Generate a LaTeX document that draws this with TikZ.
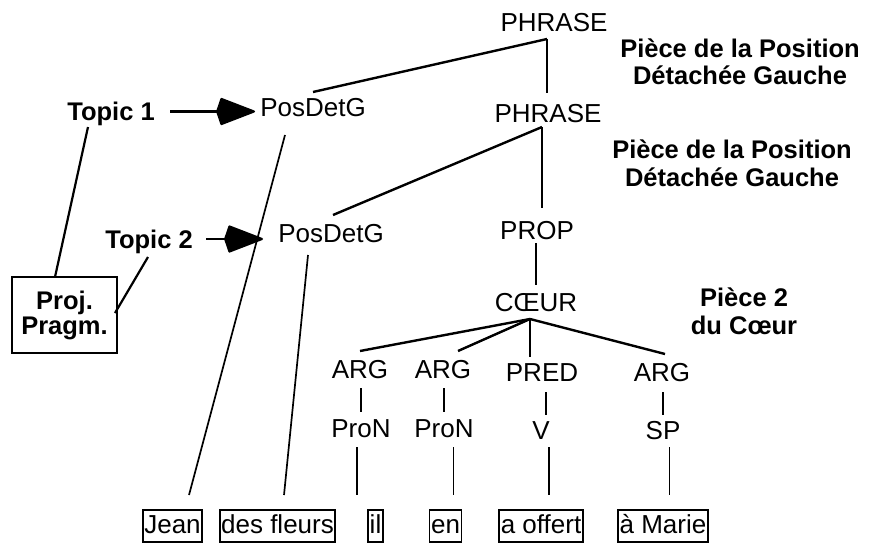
\documentclass[tikz,border=0pt]{standalone}
\usepackage{fontspec}
\setmainfont{Liberation Sans}
\usetikzlibrary{arrows.meta}
\begin{document}
\begin{tikzpicture}[x=1pt,y=-1pt,
 lbl/.style={inner sep=0pt, font=\fontsize{26}{30}\selectfont, text height=18.6pt, text depth=0pt},
 blbl/.style={inner sep=0pt, font=\fontsize{25.5}{27}\selectfont\bfseries, text height=18.3pt, text depth=0pt},
 word/.style={draw, line width=1.8pt, inner xsep=1.5pt, inner ysep=3pt, font=\fontsize{26}{30}\selectfont, text height=20pt, text depth=6pt},
 note/.style={inner sep=0pt, align=center, anchor=north},
 edge/.style={line width=2.4pt},
 thin/.style={line width=1.7pt},
 arr/.style={line width=2.2pt, -{Stealth[length=36pt,width=27pt,inset=-5pt,round]}},
 projbox/.style={draw, line width=2.2pt, align=center, inner sep=0pt, minimum width=105pt, minimum height=76pt, font=\fontsize{25.5}{25}\selectfont\bfseries}
]
\useasboundingbox (0,0) rectangle (872,543);

% tree nodes
\node[lbl] (ph1) at (554,22) {PHRASE};
\node[lbl] (ph2) at (548,113) {PHRASE};
\node[lbl] (prop) at (537,230) {PROP};
\node[lbl] (coeur) at (536,302) {CŒUR};
\node[lbl] (pdg1) at (313,107) {PosDetG};
\node[lbl] (pdg2) at (331,233) {PosDetG};
\node[lbl] (arg1) at (360,369) {ARG};
\node[lbl] (arg2) at (443,369) {ARG};
\node[lbl] (pred) at (542,372) {PRED};
\node[lbl] (arg4) at (662,372) {ARG};
\node[lbl] (pron1) at (361,428) {ProN};
\node[lbl] (pron2) at (444,428) {ProN};
\node[lbl] (vv) at (541,430) {V};
\node[lbl] (sp) at (663,430) {SP};

% words
\node[word] (w1) at (172.5,526) {Jean};
\node[word] (w2) at (277.5,526) {des fleurs};
\node[word] (w3) at (375.5,526) {il};
\node[word] (w4) at (445.5,526) {en};
\node[word] (w5) at (541,526) {a offert};
\node[word] (w6) at (663,526) {à Marie};

% topics
\node[blbl] (t1) at (111,111) {Topic 1};
\node[blbl] (t2) at (149,239) {Topic 2};
\node[projbox] (proj) at (64.5,315) {Proj.\\Pragm.};

% notes
\node[note, font=\fontsize{25.5}{27}\selectfont\bfseries] (n1) at (740,38.4) {Pièce de la Position\\Détachée Gauche};
\node[note, font=\fontsize{25.5}{28}\selectfont\bfseries] (n2) at (732,139.4) {Pièce de la Position\\Détachée Gauche};
\node[note, font=\fontsize{25.5}{28}\selectfont\bfseries] (n3) at (744,287.4) {Pièce 2\\du Cœur};

% junctions
\coordinate (j1) at ([shift={(-7,17)}]ph1.center);
\coordinate (j2) at ([shift={(-6,14)}]ph2.center);
\coordinate (j3) at ([shift={(-6,17)}]coeur.center);

% upper tree
\draw[edge] (j1) -- ([shift={(0,-15)}]pdg1.center);
\draw[edge] (j1) -- ([shift={(-1,-20)}]ph2.center);
\draw[edge] (j2) -- ([shift={(2,-18)}]pdg2.center);
\draw[edge] (j2) -- ([shift={(5,-22)}]prop.center);
\draw[edge] ([shift={(-1,13)}]prop.center) -- ([shift={(0,-17)}]coeur.center);

% coeur
\draw[edge] (j3) -- ([shift={(0,-18)}]arg1.center);
\draw[edge] (j3) -- ([shift={(15,-18)}]arg2.center);
\draw[edge] (j3) -- ([shift={(-12,-15)}]pred.center);
\draw[edge] (j3) -- ([shift={(3,-18)}]arg4.center);

% ticks
\draw[thin] ([shift={(1,19)}]arg1.center) -- ([shift={(0,-16)}]pron1.center);
\draw[thin] ([shift={(1,19)}]arg2.center) -- ([shift={(0,-16)}]pron2.center);
\draw[thin] ([shift={(4,20)}]pred.center) -- ([shift={(5,-15)}]vv.center);
\draw[thin] ([shift={(1,20)}]arg4.center) -- ([shift={(0,-15)}]sp.center);

% down to words
\draw[thin] ([shift={(-4,19)}]pron1.center) -- ([shift={(-18.5,-31)}]w3.center);
\draw[thin] ([shift={(9.5,19)}]pron2.center) -- ([shift={(8,-31)}]w4.center);
\draw[thin] ([shift={(8,17)}]vv.center) -- ([shift={(8,-31)}]w5.center);
\draw[thin] ([shift={(6.5,17)}]sp.center) -- ([shift={(6.5,-31)}]w6.center);
\draw[thin] ([shift={(-28,28)}]pdg1.center) -- ([shift={(16.5,-31)}]w1.center);
\draw[thin] ([shift={(-23,22)}]pdg2.center) -- ([shift={(6.5,-31)}]w2.center);

% topics to projection
\draw[line width=2.2pt] ([shift={(-23,16)}]t1.center) -- ([shift={(-9.5,-38)}]proj.center);
\draw[line width=2.2pt] ([shift={(-1,18)}]t2.center) -- ([shift={(50.5,-2)}]proj.center);

% arrows
\draw[arr] ([shift={(59,0.5)}]t1.center) -- ([shift={(-58,4.5)}]pdg1.center);
\draw[arr] ([shift={(57,0)}]t2.center) -- ([shift={(-68,6)}]pdg2.center);
\end{tikzpicture}
\end{document}
